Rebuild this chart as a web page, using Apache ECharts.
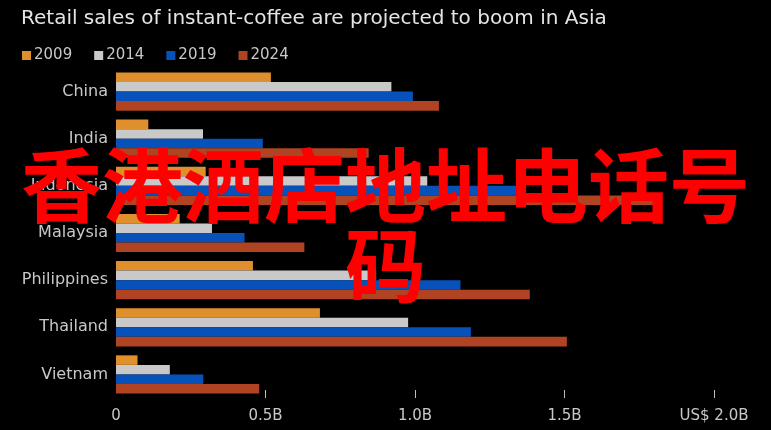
<!DOCTYPE html>
<html><head><meta charset="utf-8">
<script src="https://cdn.jsdelivr.net/npm/echarts@6/dist/echarts.min.js"></script>
<style>html,body{margin:0;padding:0;background:#000}#c{width:771px;height:430px}</style>
</head><body><div id="c"></div>
<script>
const categories = ['China','India','Indonesia','Malaysia','Philippines','Thailand','Vietnam'];
const years = ['2009','2014','2019','2024'];
const s2009 = [0.518, 0.108, 0.300, 0.213, 0.458, 0.682, 0.072];
const s2014 = [0.921, 0.291, 1.041, 0.321, 0.870, 0.977, 0.180];
const s2019 = [0.993, 0.491, 1.345, 0.430, 1.152, 1.187, 0.292];
const s2024 = [1.080, 0.845, 1.810, 0.630, 1.384, 1.508, 0.479];
const tickValues = [0, 0.5, 1.0, 1.5, 2.0];
const tickLabels = ['0', '0.5B', '1.0B', '1.5B', 'US$ 2.0B'];
const title = 'Retail sales of instant-coffee are projected to boom in Asia';
const overlayLine1 = '香港酒店地址电话号';
const overlayLine2 = '码';

const colors = ['#DF902C', '#C9C9C9', '#0752BA', '#AF4322'];
const FONT = '"DejaVu Sans", sans-serif';
const seriesData = [s2009, s2014, s2019, s2024];

const chart = echarts.init(document.getElementById('c'));
chart.setOption({
  backgroundColor: '#000',
  animation: false,
  title: {
    text: title, left: 16, top: 4,
    textStyle: {color: '#E4E4E4', fontSize: 20, fontWeight: 'normal', fontFamily: FONT}
  },
  legend: {
    data: years, left: 17, top: 43, itemWidth: 9, itemHeight: 9, itemGap: 22,
    icon: 'rect',
    textStyle: {color: '#C8C8C8', fontSize: 15, fontFamily: FONT, padding: [0,0,0,-2]}
  },
  grid: {left: 116, right: 57, top: 68, bottom: 32, containLabel: false},
  xAxis: {
    type: 'value', min: 0, max: 2, interval: 0.5,
    splitLine: {show: false}, axisLine: {show: false},
    axisTick: {show: true, inside: true, length: 8, customValues: [0.5, 1.0, 1.5, 2.0], lineStyle: {color: '#BDBDBD', width: 1}},
    axisLabel: {
      color: '#C8C8C8', fontSize: 15, fontFamily: FONT, margin: 11,
      customValues: tickValues,
      formatter: v => { const i = tickValues.indexOf(v); return i >= 0 ? tickLabels[i] : ''; }
    }
  },
  yAxis: {
    type: 'category', data: categories, inverse: true,
    axisLine: {show: false}, axisTick: {show: false},
    axisLabel: {color: '#C8C8C8', fontSize: 16, fontFamily: FONT, margin: 8}
  },
  series: years.map((y, i) => ({
    name: y, type: 'bar', data: seriesData[i],
    barGap: '0%', barCategoryGap: '19%',
    itemStyle: {color: colors[i]}
  })),
  graphic: [
    {type: 'text', left: 'center', top: 145, z: 100,
     style: {text: overlayLine1, fill: '#FF0000', fontSize: 81, fontWeight: 'bold', fontFamily: '"Noto Sans CJK SC", sans-serif'}},
    {type: 'text', left: 'center', top: 225, z: 100,
     style: {text: overlayLine2, fill: '#FF0000', fontSize: 81, fontWeight: 'bold', fontFamily: '"Noto Sans CJK SC", sans-serif'}}
  ]
});
</script></body></html>
